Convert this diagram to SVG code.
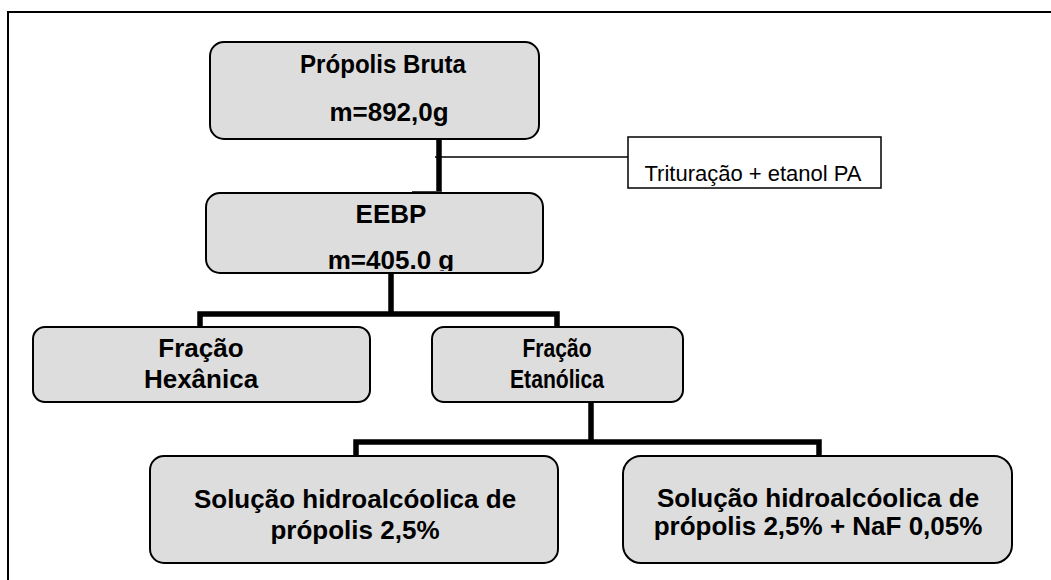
<svg xmlns="http://www.w3.org/2000/svg" width="1051" height="580" viewBox="0 0 1051 580">
<style>
.box{fill:#dddddd;stroke:#000;stroke-width:2}
.note{fill:#fff;stroke:#000;stroke-width:1.5}
.b{font-family:"Liberation Sans",Arial,sans-serif;font-weight:bold;font-size:26px;fill:#000;text-anchor:middle}
.r{font-family:"Liberation Sans",Arial,sans-serif;font-size:22px;fill:#000;text-anchor:middle}
.thick{fill:none;stroke:#000;stroke-width:5.5}
.thin{fill:none;stroke:#000;stroke-width:1.5}
</style>
<defs>
<clipPath id="clipEEBP"><rect x="206" y="193" width="337" height="78"/></clipPath>
</defs>
<rect width="1051" height="580" fill="#fff"/>
<path d="M8,580 V12 H1051" fill="none" stroke="#000" stroke-width="2"/>
<g id="connectors">
<path class="thick" d="M439,139 V191"/>
<path class="thin" d="M412,192 H442" stroke-width="3"/>
<path class="thin" d="M435,157 H628"/>
<path class="thick" d="M391,273 V314 M200,327 V314 H557 V327"/>
<path class="thick" d="M591,402 V442 M356,456 V442 H819 V456"/>
</g>
<g id="n1">
<rect class="box" x="210" y="42" width="329" height="97" rx="14"/>
<text class="b" x="383" y="73" textLength="166" lengthAdjust="spacingAndGlyphs">Própolis Bruta</text>
<text class="b" x="389" y="121">m=892,0g</text>
</g>
<g id="n_note">
<rect class="note" x="628" y="137" width="253" height="51"/>
<text class="r" x="753" y="181">Trituração + etanol PA</text>
</g>
<g id="n2">
<rect class="box" x="206" y="193" width="337" height="80" rx="14"/>
<text class="b" x="391" y="223">EEBP</text>
<text class="b" x="391" y="269" clip-path="url(#clipEEBP)">m=405.0 g</text>
</g>
<g id="n3">
<rect class="box" x="33" y="327" width="337" height="75" rx="12"/>
<text class="b" x="201" y="357">Fração</text>
<text class="b" x="201" y="388">Hexânica</text>
</g>
<g id="n4">
<rect class="box" x="432" y="327" width="251" height="75" rx="12"/>
<text class="b" x="557" y="357" textLength="69" lengthAdjust="spacingAndGlyphs">Fração</text>
<text class="b" x="557" y="388" textLength="94" lengthAdjust="spacingAndGlyphs">Etanólica</text>
</g>
<g id="n5">
<rect class="box" x="150" y="456" width="408" height="107" rx="14"/>
<text class="b" x="355" y="508">Solução hidroalcóolica de</text>
<text class="b" x="355" y="539">própolis 2,5%</text>
</g>
<g id="n6">
<rect class="box" x="623" y="456" width="389" height="107" rx="18"/>
<text class="b" x="818" y="507">Solução hidroalcóolica de</text>
<text class="b" x="818" y="535">própolis 2,5% + NaF 0,05%</text>
</g>
</svg>
